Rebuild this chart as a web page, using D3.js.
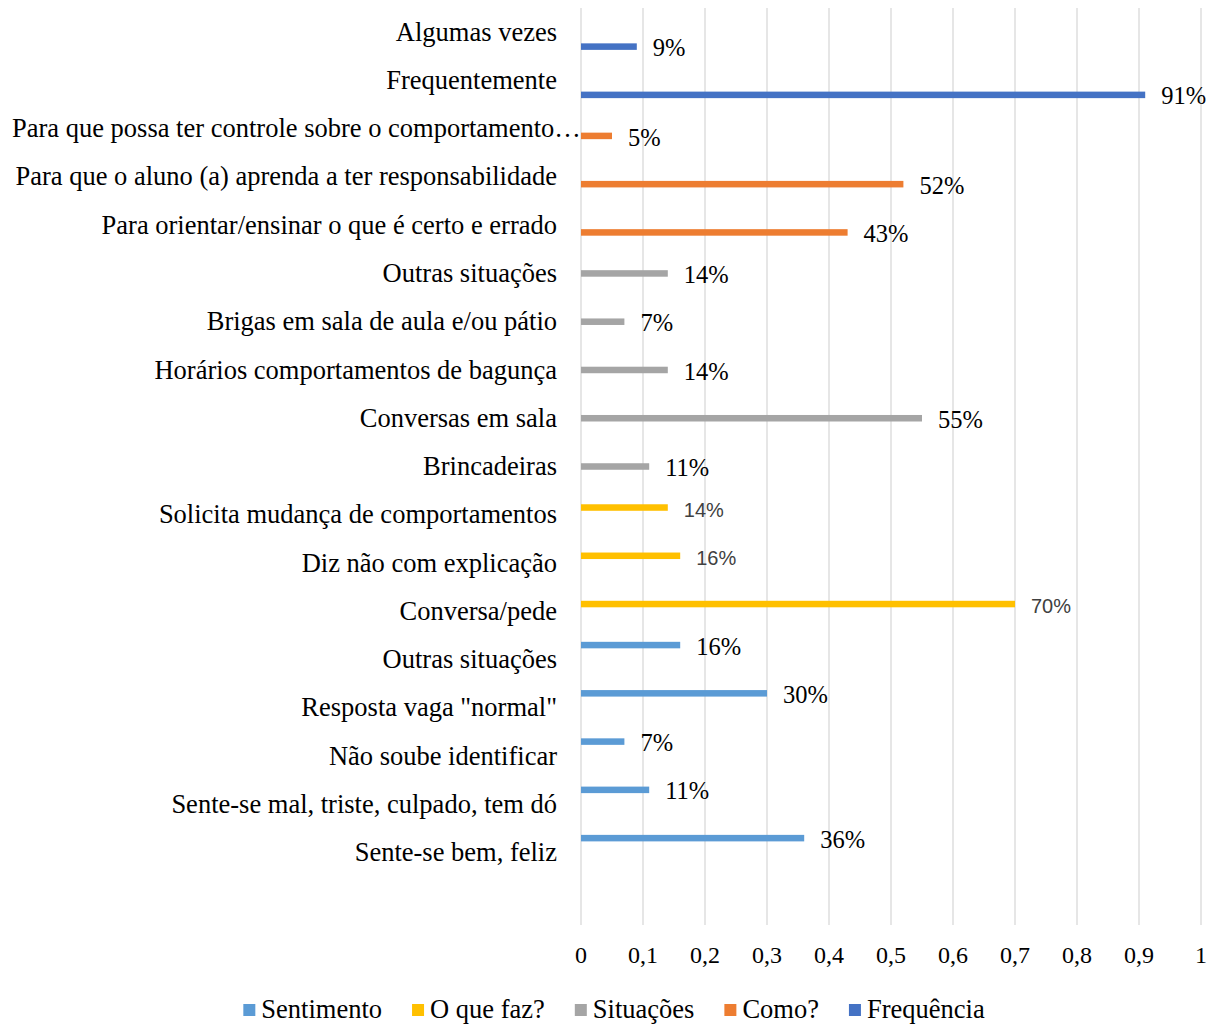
<!DOCTYPE html>
<meta charset="utf-8">
<script src="https://d3js.org/d3.v7.min.js"></script>
<style>
  body { margin:0; background:#fff; }
</style>
<div id="chart"></div>
<script>

  // categories top to bottom, one series per category
  const categories = [
    "Algumas vezes",
    "Frequentemente",
    "Para que possa ter controle sobre o comportamento…",
    "Para que o aluno (a) aprenda a ter responsabilidade",
    "Para orientar/ensinar o que é certo e errado",
    "Outras situações ",
    "Brigas em sala de aula e/ou pátio",
    "Horários comportamentos de bagunça",
    "Conversas em sala",
    "Brincadeiras",
    "Solicita mudança de comportamentos",
    "Diz não com explicação",
    "Conversa/pede",
    "Outras situações",
    "Resposta vaga \"normal\"",
    "Não soube identificar",
    "Sente-se mal, triste, culpado, tem dó",
    "Sente-se bem, feliz"
  ];
  const values = [0.09, 0.91, 0.05, 0.52, 0.43, 0.14, 0.07, 0.14, 0.55, 0.11,
                  0.14, 0.16, 0.70, 0.16, 0.30, 0.07, 0.11, 0.36];
  const groups = ["Frequência", "Frequência", "Como?", "Como?", "Como?",
                  "Situações", "Situações", "Situações", "Situações", "Situações",
                  "O que faz?", "O que faz?", "O que faz?",
                  "Sentimento", "Sentimento", "Sentimento", "Sentimento", "Sentimento"];

  const seriesNames = ["Sentimento", "O que faz?", "Situações", "Como?", "Frequência"];
  const seriesColors = ["#5B9BD5", "#FFC000", "#A5A5A5", "#ED7D31", "#4472C4"];
  const xTicks = [0, 0.1, 0.2, 0.3, 0.4, 0.5, 0.6, 0.7, 0.8, 0.9, 1];

  const W = 1218, H = 1024;
  const plot = { left: 581, right: 1201, top: 8, bottom: 925 };
  const serif = "'Liberation Serif', 'Times New Roman', serif";
  const sans = "'Liberation Sans', Arial, sans-serif";

  const svg = d3.select("#chart").append("svg")
    .attr("width", W).attr("height", H);

  const x = d3.scaleLinear().domain([0, 1]).range([plot.left, plot.right]);

  // one empty slot at the bottom, like the original
  const y = d3.scaleBand()
    .domain(categories.map((c, i) => i).concat(["empty"]))
    .range([plot.top, plot.bottom]);

  const sub = d3.scaleBand()
    .domain(seriesNames)
    .range([-18.1, 18.1])
    .paddingInner(0.1)
    .paddingOuter(0.05);

  const color = d3.scaleOrdinal().domain(seriesNames).range(seriesColors);

  const fmt = d3.formatLocale({ decimal: ",", thousands: ".", grouping: [3], currency: ["", ""] }).format("~g");

  // gridlines
  svg.append("g")
    .selectAll("line")
    .data(xTicks)
    .join("line")
    .attr("x1", d => x(d)).attr("x2", d => x(d))
    .attr("y1", plot.top).attr("y2", plot.bottom)
    .attr("stroke", "#d9d9d9")
    .attr("stroke-width", 1.3);

  // x tick labels
  svg.append("g")
    .selectAll("text")
    .data(xTicks)
    .join("text")
    .attr("x", d => x(d))
    .attr("y", 957)
    .attr("text-anchor", "middle")
    .attr("dominant-baseline", "middle")
    .style("font-family", serif)
    .style("font-size", "24px")
    .attr("fill", "#000")
    .text(d => fmt(d));

  const rows = categories.map((c, i) => ({ i: i, name: c, value: values[i], group: groups[i] }));
  const barY = d => y(d.i) + y.bandwidth() / 2 + sub(d.group) + sub.bandwidth() / 2;

  // category labels
  svg.append("g")
    .selectAll("text")
    .data(rows)
    .join("text")
    .attr("x", 557)
    .attr("y", d => y(d.i) + y.bandwidth() / 2 + 2.5)
    .attr("text-anchor", "end")
    .attr("dominant-baseline", "middle")
    .style("font-family", serif)
    .style("font-size", "26.5px")
    .attr("fill", "#000")
    .text(d => d.name)
    .each(function () {
      // too long for the label area: fill it from the left edge
      if (this.getComputedTextLength() > 545) {
        d3.select(this).attr("x", 12).attr("text-anchor", "start");
      }
    });

  // bars
  svg.append("g")
    .selectAll("rect")
    .data(rows)
    .join("rect")
    .attr("x", x(0))
    .attr("y", d => barY(d) - sub.bandwidth() / 2)
    .attr("width", d => x(d.value) - x(0))
    .attr("height", sub.bandwidth())
    .attr("fill", d => color(d.group));

  // data labels
  svg.append("g")
    .selectAll("text")
    .data(rows)
    .join("text")
    .attr("x", d => x(d.value) + 16)
    .attr("y", d => barY(d) + 4)
    .attr("dominant-baseline", "middle")
    .style("font-family", d => d.group === "O que faz?" ? sans : serif)
    .style("font-size", d => d.group === "O que faz?" ? "20px" : "24.5px")
    .attr("fill", d => d.group === "O que faz?" ? "#404040" : "#000")
    .text(d => Math.round(d.value * 100) + "%");

  // legend
  const legend = svg.append("g");
  const items = legend.selectAll("g")
    .data(seriesNames)
    .join("g");

  items.append("rect")
    .attr("width", 12).attr("height", 12)
    .attr("y", -6)
    .attr("fill", d => color(d));

  items.append("text")
    .attr("x", 18)
    .attr("y", 2)
    .attr("dominant-baseline", "middle")
    .style("font-family", serif)
    .style("font-size", "26.5px")
    .attr("fill", "#000")
    .text(d => d);

  let pos = 0;
  const gap = 30;
  items.each(function () {
    const w = 18 + d3.select(this).select("text").node().getComputedTextLength();
    d3.select(this).attr("transform", `translate(${pos},0)`);
    pos += w + gap;
  });
  const total = pos - gap;
  legend.attr("transform", `translate(${614 - total / 2},1010)`);

</script>
